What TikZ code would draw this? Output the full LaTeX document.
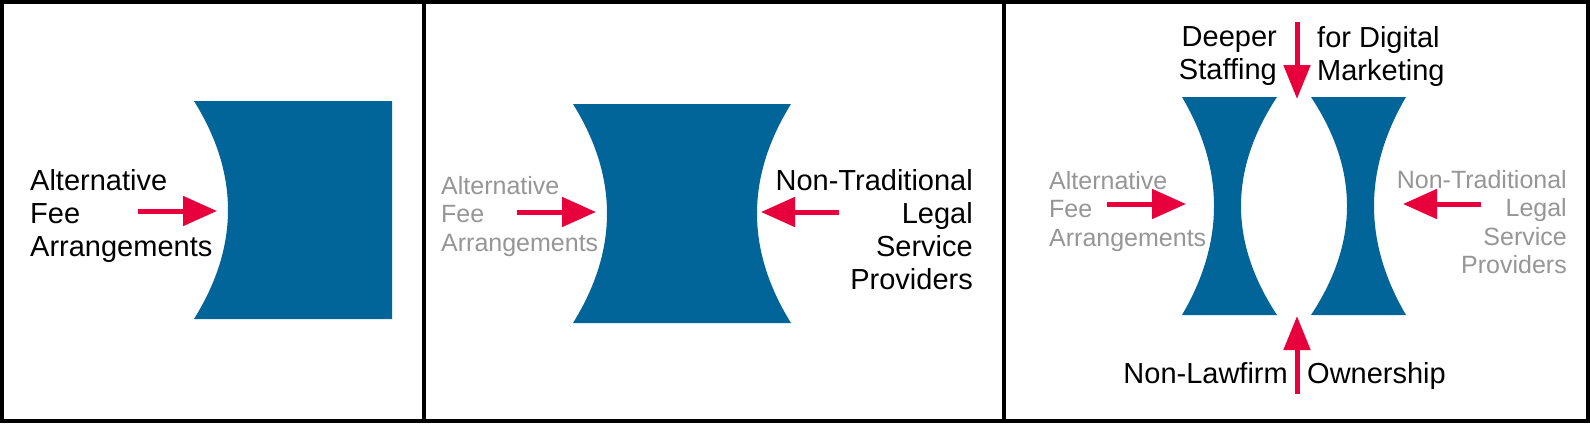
\documentclass[tikz,border=0pt]{standalone}
\usepackage{fontspec}
\setmainfont{Liberation Sans}
\usetikzlibrary{arrows.meta}
\definecolor{shapeblue}{RGB}{2,101,153}
\definecolor{arrowred}{RGB}{232,0,60}
\definecolor{textgrey}{RGB}{150,150,150}
\begin{document}
\begin{tikzpicture}[x=1pt,y=-1pt,
  blob/.style={fill=shapeblue,draw=none},
  push/.style={color=arrowred,line width=5pt,-{Triangle[length=34pt,width=29pt]}},
  pushv/.style={color=arrowred,line width=5pt,-{Triangle[length=34pt,width=26pt]}},
  big/.style={font=\fontsize{29}{33}\selectfont,inner sep=0pt,text=black},
  faint/.style={font=\fontsize{25}{28.5}\selectfont,inner sep=0pt,text=textgrey},
  panelline/.style={draw=black,line width=4pt}]
\useasboundingbox (0,0) rectangle (1590,423);
\fill[white] (0,0) rectangle (1590,423);

% frame and dividers
\draw[panelline] (2,2) rectangle (1588,420.5);
\draw[panelline] (424,2) -- (424,420.5);
\draw[panelline] (1004,2) -- (1004,420.5);

% ---------- panel 1 ----------
\fill[blob] (194,101) -- (392,101) -- (392,319) -- (194,319)
  .. controls (239.33,246.33) and (239.33,173.67) .. (194,101) -- cycle;
\node[big,align=left,anchor=north west] (afa1) at (30,169.2) {Alternative\\Fee\\Arrangements};
\coordinate (a1s) at (138,211);
\coordinate (a1e) at (217,211);
\draw[push] (a1s) -- (a1e);

% ---------- panel 2 ----------
\fill[blob] (573,104) -- (791,104)
  .. controls (745.67,177) and (745.67,250) .. (791,323) -- (573,323)
  .. controls (618.33,250) and (618.33,177) .. (573,104) -- cycle;
\node[faint,align=left,anchor=north west] (afa2) at (441,176.1) {Alternative\\Fee\\Arrangements};
\node[big,align=right,anchor=north east] (ntl2) at (973,169.2) {Non-Traditional\\Legal\\Service\\Providers};
\coordinate (a2s) at (517,212);
\coordinate (a2e) at (596,212);
\coordinate (b2s) at (839,212);
\coordinate (b2e) at (761,212);
\draw[push] (a2s) -- (a2e);
\draw[push] (b2s) -- (b2e);

% ---------- panel 3 ----------
\fill[blob] (1182,97) -- (1277,97)
  .. controls (1229,169.67) and (1229,242.33) .. (1277,315) -- (1182,315)
  .. controls (1224.67,242.33) and (1224.67,169.67) .. (1182,97) -- cycle;
\fill[blob] (1311,97) -- (1406,97)
  .. controls (1363.33,169.67) and (1363.33,242.33) .. (1406,315) -- (1311,315)
  .. controls (1359,242.33) and (1359,169.67) .. (1311,97) -- cycle;

\node[big,align=right,anchor=north east] (dst) at (1277,26.2) {Deeper\\Staffing};
\node[big,align=left,anchor=north west] (fdm) at (1317,26.2) {for Digital\\Marketing};
\node[big,anchor=north east] (nlf) at (1288,362.2) {Non-Lawfirm};
\node[big,anchor=north west] (own) at (1307,362.2) {Ownership};
\node[faint,align=left,anchor=north west] (afa3) at (1049,171.1) {Alternative\\Fee\\Arrangements};
\node[faint,align=right,anchor=north east] (ntl3) at (1567,170.1) {Non-Traditional\\Legal\\Service\\Providers};

\coordinate (a3s) at (1107,204);
\coordinate (a3e) at (1186,204);
\coordinate (b3s) at (1481,204);
\coordinate (b3e) at (1403,204);
\coordinate (t3s) at (1297,22);
\coordinate (t3e) at (1297,99);
\coordinate (u3s) at (1297,394);
\coordinate (u3e) at (1297,316);
\draw[push] (a3s) -- (a3e);
\draw[push] (b3s) -- (b3e);
\draw[pushv] (t3s) -- (t3e);
\draw[pushv] (u3s) -- (u3e);
\end{tikzpicture}
\end{document}
